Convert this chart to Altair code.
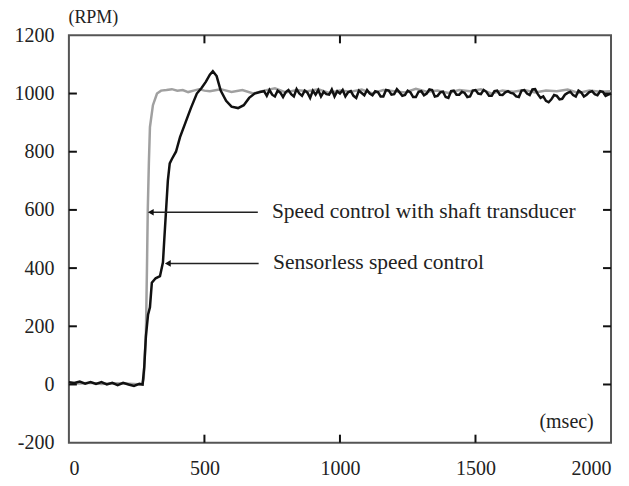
import altair as alt
import pandas as pd

# Shaft transducer (gray) speed response
shaft_t = [0, 40, 80, 120, 160, 200, 240, 270, 276, 280, 284, 288, 291, 295, 299, 310, 325,
           340, 360, 380, 400, 420, 440, 460, 480, 500, 520, 560, 600, 640, 680, 720, 760,
           800, 840, 880, 920, 960, 1000, 1040, 1080, 1120, 1160, 1200, 1240, 1280, 1320,
           1360, 1400, 1440, 1480, 1520, 1560, 1600, 1640, 1680, 1720, 1760, 1800, 1840,
           1880, 1920, 1960, 2000]
shaft_rpm = [5, 3, 6, 2, 4, 3, 2, 0, 20, 100, 165, 400, 600, 760, 885, 960, 1000,
             1010, 1012, 1015, 1010, 1012, 1005, 1010, 1015, 1010, 1008, 1015, 1005, 1012,
             1000, 1010, 1018, 1004, 1012, 1008, 1015, 1002, 1010, 1006, 1014, 1000, 1012,
             1008, 1004, 1016, 1006, 1010, 1002, 1012, 1008, 1015, 1000, 1010, 1006, 1012,
             1004, 1010, 1008, 1014, 1002, 1010, 1006, 1008]

# Sensorless (black) speed response
sensorless_t = [0, 20, 40, 60, 80, 100, 120, 140, 160, 180, 200, 220, 240, 260, 272, 278,
                284, 292, 299, 306, 320, 336, 347, 352, 358, 365, 372, 380, 395, 410, 430,
                450, 472, 490, 505, 520, 531, 545, 560, 580, 600, 624, 645, 665, 685, 705,
                720, 730, 740, 750, 760, 770, 780, 790, 800, 810, 820, 830, 840, 850, 860,
                870, 880, 890, 900, 910, 920, 930, 940, 950, 960, 970, 980, 990, 1000,
                1010, 1020, 1030, 1040, 1050, 1060, 1070, 1080, 1090, 1100, 1110, 1120,
                1130, 1140, 1150, 1160, 1170, 1180, 1190, 1200, 1210, 1220, 1230, 1240,
                1250, 1260, 1270, 1280, 1290, 1300, 1310, 1320, 1330, 1340, 1350, 1360,
                1370, 1380, 1390, 1400, 1410, 1420, 1430, 1440, 1450, 1460, 1470, 1480,
                1490, 1500, 1510, 1520, 1530, 1540, 1550, 1560, 1570, 1580, 1590, 1600,
                1610, 1620, 1630, 1640, 1650, 1660, 1670, 1680, 1690, 1700, 1710, 1720,
                1730, 1740, 1750, 1760, 1770, 1780, 1790, 1800, 1810, 1820, 1830, 1840,
                1850, 1860, 1870, 1880, 1890, 1900, 1910, 1920, 1930, 1940, 1950, 1960,
                1970, 1980, 1990, 2000]
sensorless_rpm = [8, 5, 10, 3, 8, 2, 8, 0, 6, -2, 6, 0, -5, 2, 0, 60,
                  165, 240, 265, 350, 365, 372, 420, 500, 592, 700, 760, 775, 800, 850, 900,
                  950, 1000, 1020, 1040, 1065, 1077, 1060, 1010, 975, 955, 950, 960, 985, 1000, 1005,
                  1008, 992, 1012, 996, 990, 1010, 1003, 988, 1005, 1012, 998, 990, 1015, 1000,
                  992, 1010, 1003, 985, 1010, 996, 1012, 990, 1006, 998, 996, 1014, 990, 1008,
                  1000, 1012, 990, 1004, 1008, 992, 985, 1010, 1002, 994, 1012, 1000, 994,
                  1008, 1005, 990, 990, 1012, 1010, 996, 998, 1015, 1004, 992, 995, 1010,
                  1004, 988, 988, 1006, 1008, 994, 1000, 1014, 1012, 990, 992, 1004, 1006,
                  988, 985, 1008, 1010, 996, 996, 1006, 1002, 988, 990, 1010, 1012, 1000,
                  998, 1012, 1006, 992, 992, 1008, 1010, 996, 995, 1004, 1008, 1002, 1000,
                  990, 988, 1010, 1012, 1000, 995, 1014, 1015, 998, 985, 990, 975, 970,
                  980, 995, 992, 980, 982, 996, 1002, 1006, 995, 990, 1010, 1004, 990,
                  996, 1005, 1008, 998, 994, 1008, 1006, 992, 996, 1000]

# Annotations
ann_labels = ["Speed control with shaft transducer", "Sensorless speed control"]
ann_arrow_x = [302, 365]
ann_line_end_x = [697, 700]
ann_y = [592, 416]
ann_text_x = [749, 753]

x_ticks = [0, 500, 1000, 1500, 2000]
y_ticks = [-200, 0, 200, 400, 600, 800, 1000, 1200]
x_inner_ticks = [500, 1000, 1500]
y_inner_ticks = [0, 200, 400, 600, 800, 1000]

shaft = pd.DataFrame({"t": shaft_t, "rpm": shaft_rpm})
sensorless = pd.DataFrame({"t": sensorless_t, "rpm": sensorless_rpm})
ann = pd.DataFrame({"label": ann_labels, "x0": ann_arrow_x, "x1": ann_line_end_x,
                    "y": ann_y, "tx": ann_text_x})
xt = pd.DataFrame({"v": x_inner_ticks})
yt = pd.DataFrame({"v": y_inner_ticks})

W, H, TICK = 543, 408, 8
FONT = "Liberation Serif"
xs = alt.Scale(domain=[0, 2000], nice=False, zero=False)
ys = alt.Scale(domain=[-200, 1200], nice=False, zero=False)
LBL = "'' + datum.value"

x_bottom = alt.Axis(values=x_ticks, orient="bottom", domain=False, grid=False, ticks=False,
                    labelPadding=16, labelExpr=LBL,
                    labelFont=FONT, labelFontSize=20, labelColor="#222",
                    title="(msec)", titleFont=FONT, titleFontSize=20, titleFontWeight="normal",
                    titleColor="#222", titleX=498, titleY=-21, titleBaseline="middle",
                    titleAlign="center")
y_left = alt.Axis(values=y_ticks, orient="left", domain=False, grid=False, ticks=False,
                  labelPadding=15, labelExpr=LBL,
                  labelFont=FONT, labelFontSize=20, labelColor="#222",
                  title="(RPM)", titleFont=FONT, titleFontSize=18, titleFontWeight="normal",
                  titleColor="#222", titleAngle=0, titleX=24, titleY=-18,
                  titleBaseline="middle", titleAlign="center")

shaft_line = alt.Chart(shaft).mark_line(color="#a0a0a0", strokeWidth=2.5).encode(
    x=alt.X("t:Q", scale=xs, axis=x_bottom),
    y=alt.Y("rpm:Q", scale=ys, axis=y_left),
)
sens_line = alt.Chart(sensorless).mark_line(color="#111111", strokeWidth=2.5).encode(
    x=alt.X("t:Q", scale=xs),
    y=alt.Y("rpm:Q", scale=ys),
)

# inward tick marks on all four sides
tick_style = dict(color="#111", strokeWidth=2)
ticks_bottom = alt.Chart(xt).mark_rule(**tick_style).encode(
    x=alt.X("v:Q", scale=xs), y=alt.value(H), y2=alt.value(H - TICK))
ticks_top = alt.Chart(xt).mark_rule(**tick_style).encode(
    x=alt.X("v:Q", scale=xs), y=alt.value(0), y2=alt.value(TICK))
ticks_left = alt.Chart(yt).mark_rule(**tick_style).encode(
    y=alt.Y("v:Q", scale=ys), x=alt.value(0), x2=alt.value(TICK))
ticks_right = alt.Chart(yt).mark_rule(**tick_style).encode(
    y=alt.Y("v:Q", scale=ys), x=alt.value(W), x2=alt.value(W - TICK))

arrow_lines = alt.Chart(ann).mark_rule(color="#222", strokeWidth=1.5).encode(
    x=alt.X("x0:Q", scale=xs),
    x2="x1:Q",
    y=alt.Y("y:Q", scale=ys),
)
arrow_heads = alt.Chart(ann).mark_point(shape="triangle-left", filled=True, color="#111",
                                        size=45, opacity=1).encode(
    x=alt.X("x0:Q", scale=xs),
    y=alt.Y("y:Q", scale=ys),
)
texts = alt.Chart(ann).mark_text(font=FONT, fontSize=21.5, color="#222", align="left",
                                 baseline="middle").encode(
    x=alt.X("tx:Q", scale=xs),
    y=alt.Y("y:Q", scale=ys),
    text="label:N",
)

chart = alt.layer(shaft_line, sens_line, ticks_bottom, ticks_top, ticks_left, ticks_right,
                  arrow_lines, arrow_heads, texts).properties(
    width=W, height=H,
    autosize=alt.AutoSizeParams(type="none"),
    padding={"left": 61, "top": 27, "right": 10, "bottom": 40},
    background="white",
).configure_view(stroke="#555", strokeWidth=2)

chart.save("out.html", embed_options={"renderer": "svg", "actions": False})
